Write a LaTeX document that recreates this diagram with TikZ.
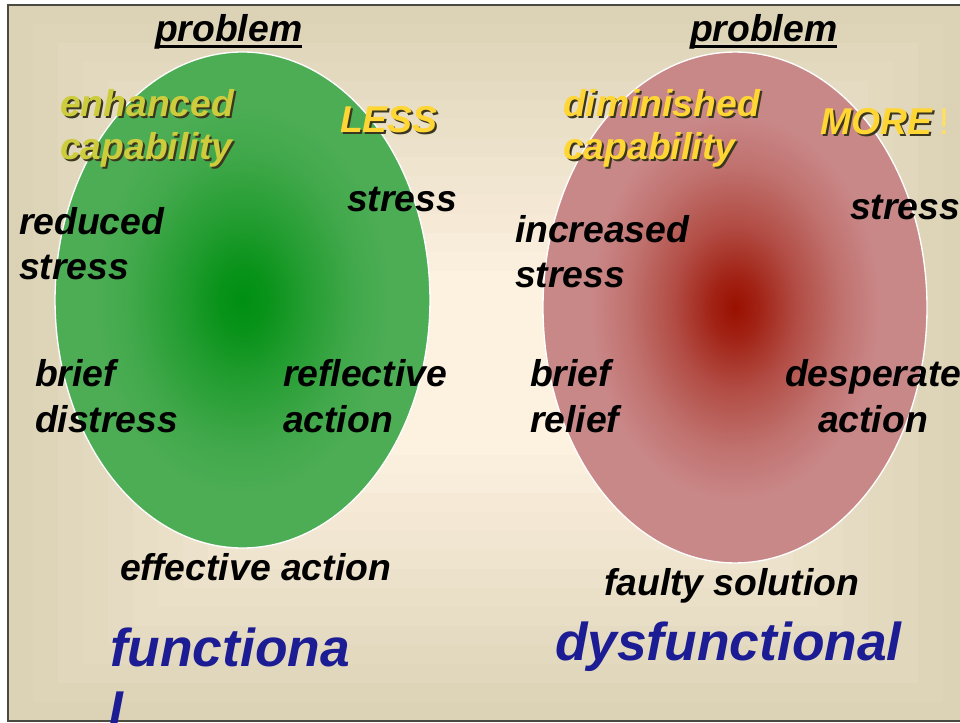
\documentclass[tikz,border=0pt]{standalone}
\usepackage{fontspec}
\setmainfont{Liberation Sans}
\definecolor{bgout}{HTML}{DCD3B6}
\definecolor{bgin}{HTML}{FDF1E0}
\definecolor{framec}{HTML}{4A4A40}
\definecolor{gin}{HTML}{008F12}
\definecolor{gout}{HTML}{4DAD55}
\definecolor{rin}{HTML}{9A1000}
\definecolor{rout}{HTML}{C98888}
\definecolor{gold}{HTML}{FFD633}
\definecolor{olive}{HTML}{CDCC3D}
\definecolor{shadowc}{HTML}{3A3620}
\definecolor{navy}{HTML}{1C1C94}
\definecolor{bang}{HTML}{FFE060}
\pgfdeclareradialshading{greenball}{\pgfpoint{0bp}{0bp}}{color(0bp)=(gin); color(3bp)=(gin!90!gout); color(9bp)=(gin!50!gout); color(15bp)=(gin!15!gout); color(20bp)=(gout); color(25bp)=(gout); color(50bp)=(gout)}
\pgfdeclareradialshading{redball}{\pgfpoint{0bp}{0bp}}{color(0bp)=(rin); color(3bp)=(rin!85!rout); color(8bp)=(rin!50!rout); color(14bp)=(rin!18!rout); color(19bp)=(rout); color(25bp)=(rout); color(50bp)=(rout)}
\tikzset{
  lbl/.style={anchor=base west, inner sep=0pt, outer sep=0pt, font=\fontsize{28}{30}\selectfont\bfseries\itshape, text=black},
  ylw/.style={lbl, text=gold},
  olv/.style={lbl, text=olive},
  shd/.style={lbl, text=shadowc},
  big/.style={anchor=base west, inner sep=0pt, outer sep=0pt, font=\fontsize{40}{44}\selectfont\bfseries\itshape, text=navy},
  ball/.style={draw=white, line width=1pt}
}
\begin{document}
\begin{tikzpicture}[x=0.75pt, y=-0.75pt]
\useasboundingbox (0,0) rectangle (960,723);
\clip (0,0) rectangle (960,723);
\fill[white] (0,0) rectangle (960,723);
% background stepped gradient
\foreach \i in {0,...,14}{
  \pgfmathtruncatemacro\p{100*\i/14}
  \fill[bgin!\p!bgout] (8+25*\i, 5+19*\i) rectangle (968-25*\i, 721-19*\i);
}
\draw[framec, line width=0.9pt] (970,5) -- (8,5) -- (8,721) -- (970,721);
% ellipses
\path[ball, shading=greenball] (242.5,300) ellipse [x radius=140.6pt, y radius=186pt];
\path[ball, shading=redball] (735,307.5) ellipse [x radius=144pt, y radius=191.6pt];
% left side
\node[lbl] (prob1) at (155,42) {problem};
\draw[line width=2pt] ([yshift=-3.6pt]prob1.base west) -- ([yshift=-3.6pt]prob1.base east);
\node[shd] (enhs) at (62,119) {enhanced};
\node[olv] (enh) at (60,117) {enhanced};
\node[shd] (cap1s) at (62,162) {capability};
\node[olv] (cap1) at (60,160) {capability};
\node[shd] (lesss) at (342,135) {LESS};
\node[ylw] (less) at (340,133) {LESS};
\node[lbl] (str1) at (347,212) {stress};
\node[lbl] (red) at (19,235) {reduced};
\node[lbl] (str2) at (19,280) {stress};
\node[lbl] (bri1) at (35,387) {brief};
\node[lbl] (dis) at (35,432) {distress};
\node[lbl] (refl) at (283,387) {reflective};
\node[lbl] (act1) at (283,432) {action};
\node[lbl] (eff) at (120,580) {effective action};
\node[big] (fun1) at (110,666) {functiona};
\node[big] (fun2) at (108,730) {l};
% right side
\node[lbl] (prob2) at (690,42) {problem};
\draw[line width=2pt] ([yshift=-3.6pt]prob2.base west) -- ([yshift=-3.6pt]prob2.base east);
\node[shd] (dims) at (565,119) {diminished};
\node[ylw] (dim) at (563,117) {diminished};
\node[shd] (cap2s) at (565,162) {capability};
\node[ylw] (cap2) at (563,160) {capability};
\node[shd] (mores) at (822,137) {MORE};
\node[ylw] (more) at (820,135) {MORE};
\node[anchor=base west, inner sep=0pt, font=\fontsize{28}{30}\selectfont, text=bang] (bang) at ([xshift=5pt]more.base east) {!};
\node[lbl] (str3) at (850,220) {stress};
\node[lbl] (inc) at (515,243) {increased};
\node[lbl] (str4) at (515,288) {stress};
\node[lbl] (bri2) at (530,387) {brief};
\node[lbl] (rel) at (530,432) {relief};
\node[lbl] (desp) at (785,387) {desperate};
\node[lbl] (act2) at (818,432) {action};
\node[lbl] (faul) at (604,595) {faulty solution};
\node[big] (dys) at (555,660) {dysfunctional};
\end{tikzpicture}
\end{document}
